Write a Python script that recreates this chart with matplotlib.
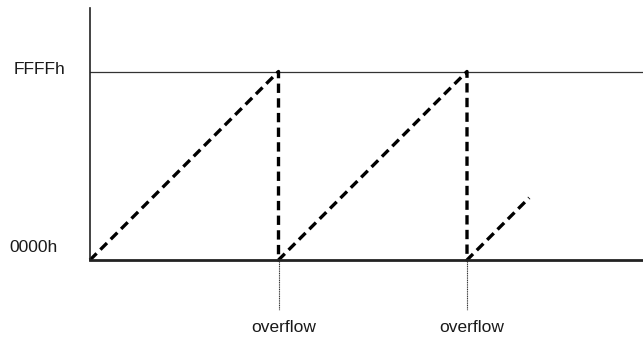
import matplotlib
matplotlib.use("Agg")
import matplotlib.pyplot as plt

# sawtooth counter: time (in periods) vs counter value (fraction of FFFFh)
t_ramp = [0, 1, 1, 2, 2, 2.33]
v_ramp = [0, 1, 0, 1, 0, 0.33]
overflow_t = [1, 2]
y_labels = ["0000h", "FFFFh"]
y_vals = [0, 1]

plt.rcParams['font.family'] = ['Liberation Sans', 'DejaVu Sans']

fig = plt.figure(figsize=(6.43, 3.40), dpi=100)
W, H = 643, 340
x0, y0 = 90, 260   # origin in pixels
unit = 188.5       # px per unit
ax = fig.add_axes([x0 / W, (H - y0) / H, (W - x0) / W, (y0 - 8) / H])
ax.set_xlim(0, (W - x0) / unit)
ax.set_ylim(0, (y0 - 8) / unit)

for s in ['top', 'right']:
    ax.spines[s].set_visible(False)
ax.spines['left'].set_linewidth(1.2)
ax.spines['left'].set_color('#222222')
ax.spines['bottom'].set_linewidth(2.0)
ax.spines['bottom'].set_color('#222222')
ax.set_xticks([])
ax.set_yticks([])

# FFFFh level
ax.axhline(1, color='#333333', lw=0.9)

# counter value
ax.plot(t_ramp, v_ramp, color='black', lw=2.4, dashes=(2.8, 1.6), clip_on=False)

# overflow markers
for t in overflow_t:
    ax.plot([t, t], [0, -50 / unit], color='#333333', lw=0.8, ls=(0, (1, 0.6)), clip_on=False)
    ax.text(t + 5 / unit, -68 / unit, "overflow", ha='center', va='center', fontsize=12.5, color='#1a1a1a')

ax.text(-50 / unit, 1 + 1.5 / unit, y_labels[1], ha='center', va='center', fontsize=12.5, color='#1a1a1a')
ax.text(-56.5 / unit, 12 / unit, y_labels[0], ha='center', va='center', fontsize=12.5, color='#1a1a1a')

fig.savefig("out.png", dpi=100)
